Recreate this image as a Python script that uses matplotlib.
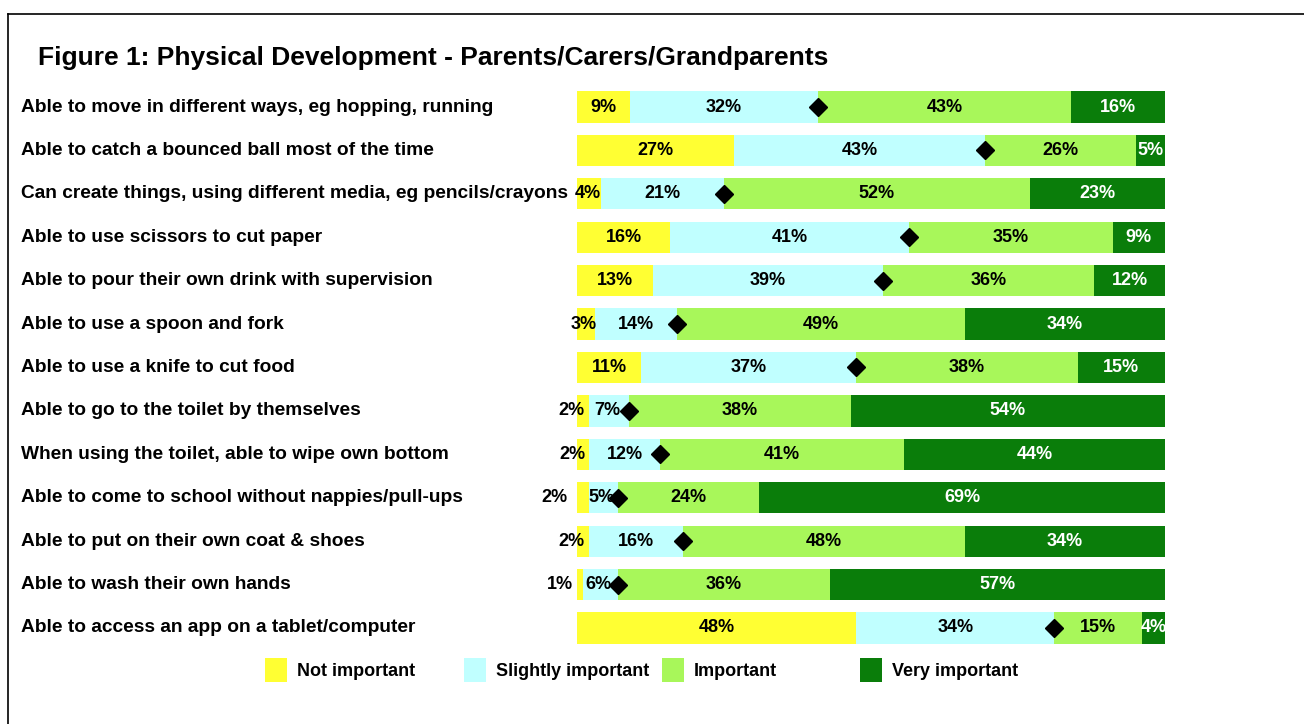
import matplotlib
matplotlib.use("Agg")
import matplotlib.pyplot as plt
import numpy as np
from matplotlib.transforms import blended_transform_factory
from matplotlib.lines import Line2D
from matplotlib.patches import Rectangle

plt.rcParams['font.family'] = ['Liberation Sans', 'DejaVu Sans']

title = "Figure 1: Physical Development - Parents/Carers/Grandparents"
categories = [
    "Able to move in different ways, eg hopping, running",
    "Able to catch a bounced ball most of the time",
    "Can create things, using different media, eg pencils/crayons",
    "Able to use scissors to cut paper",
    "Able to pour their own drink with supervision",
    "Able to use a spoon and fork",
    "Able to use a knife to cut food",
    "Able to go to the toilet by themselves",
    "When using the toilet, able to wipe own bottom",
    "Able to come to school without nappies/pull-ups",
    "Able to put on their own coat & shoes",
    "Able to wash their own hands",
    "Able to access an app on a tablet/computer",
]
series_names = ["Not important", "Slightly important", "Important", "Very important"]
not_important = [9, 27, 4, 16, 13, 3, 11, 2, 2, 2, 2, 1, 48]
slightly_important = [32, 43, 21, 41, 39, 14, 37, 7, 12, 5, 16, 6, 34]
important = [43, 26, 52, 35, 36, 49, 38, 38, 41, 24, 48, 36, 15]
very_important = [16, 5, 23, 9, 12, 34, 15, 54, 44, 69, 34, 57, 4]

colors = ["#FFFF33", "#C0FFFF", "#A8F75A", "#0A7D0A"]
text_colors = ["black", "black", "black", "white"]
# label horizontal nudges (pixels) for a few crowded labels: (row, series) -> dx
label_nudge = {(7, 0): -11, (8, 0): -11, (9, 0): -28, (10, 0): -11, (11, 0): -20,
               (5, 0): -2, (2, 0): -1, (9, 1): -2, (11, 1): -2, (7, 1): -2}

W, H = 1304, 724
fig = plt.figure(figsize=(W / 100, H / 100), dpi=100)
ax = fig.add_axes([577 / W, 1 - 649.7 / H, (1165 - 577) / W, (649.7 - 85.3) / H])

data = np.array([not_important, slightly_important, important, very_important], dtype=float)
totals = data.sum(axis=0)
shares = data / totals * 100
y = np.arange(len(categories))
left = np.zeros(len(categories))
for s in range(4):
    ax.barh(y, shares[s], left=left, height=0.72, color=colors[s], edgecolor='none')
    for i in range(len(categories)):
        cx = left[i] + shares[s][i] / 2
        dx = label_nudge.get((i, s), 0)
        ax.annotate(f"{int(data[s][i])}%", (cx, y[i]), xytext=(dx * 0.72, 0),
                    textcoords='offset points', ha='center', va='center',
                    fontsize=13, fontweight='bold', color=text_colors[s])
    left = left + shares[s]

diamond_x = shares[0] + shares[1]
ax.plot(diamond_x, y, linestyle='none', marker='D', markersize=9, color='black', zorder=5)

ax.set_xlim(0, 100)
ax.set_ylim(len(categories) - 0.5, -0.5)
ax.axis('off')

tr = blended_transform_factory(fig.transFigure, ax.transData)
for i, c in enumerate(categories):
    ax.text(21 / W, y[i], c, transform=tr, ha='left', va='center',
            fontsize=13.75, fontweight='bold', color='black')

fig.text(38 / W, 1 - 58 / H, title, ha='left', va='center', fontsize=19, fontweight='bold')

# legend
sq_x = [265, 464, 662, 860]
for s in range(4):
    fig.add_artist(Rectangle((sq_x[s] / W, 1 - 682 / H), 22 / W, 24 / H,
                             transform=fig.transFigure, facecolor=colors[s], edgecolor='none'))
    fig.text((sq_x[s] + 32) / W, 1 - 671 / H, series_names[s], ha='left', va='center',
             fontsize=13, fontweight='bold')

# frame
fig.add_artist(Line2D([8 / W, 1.0], [1 - 14 / H, 1 - 14 / H], transform=fig.transFigure, color='black', lw=1.2))
fig.add_artist(Line2D([8 / W, 8 / W], [0, 1 - 14 / H], transform=fig.transFigure, color='black', lw=1.2))

fig.savefig("out.png", dpi=100)
